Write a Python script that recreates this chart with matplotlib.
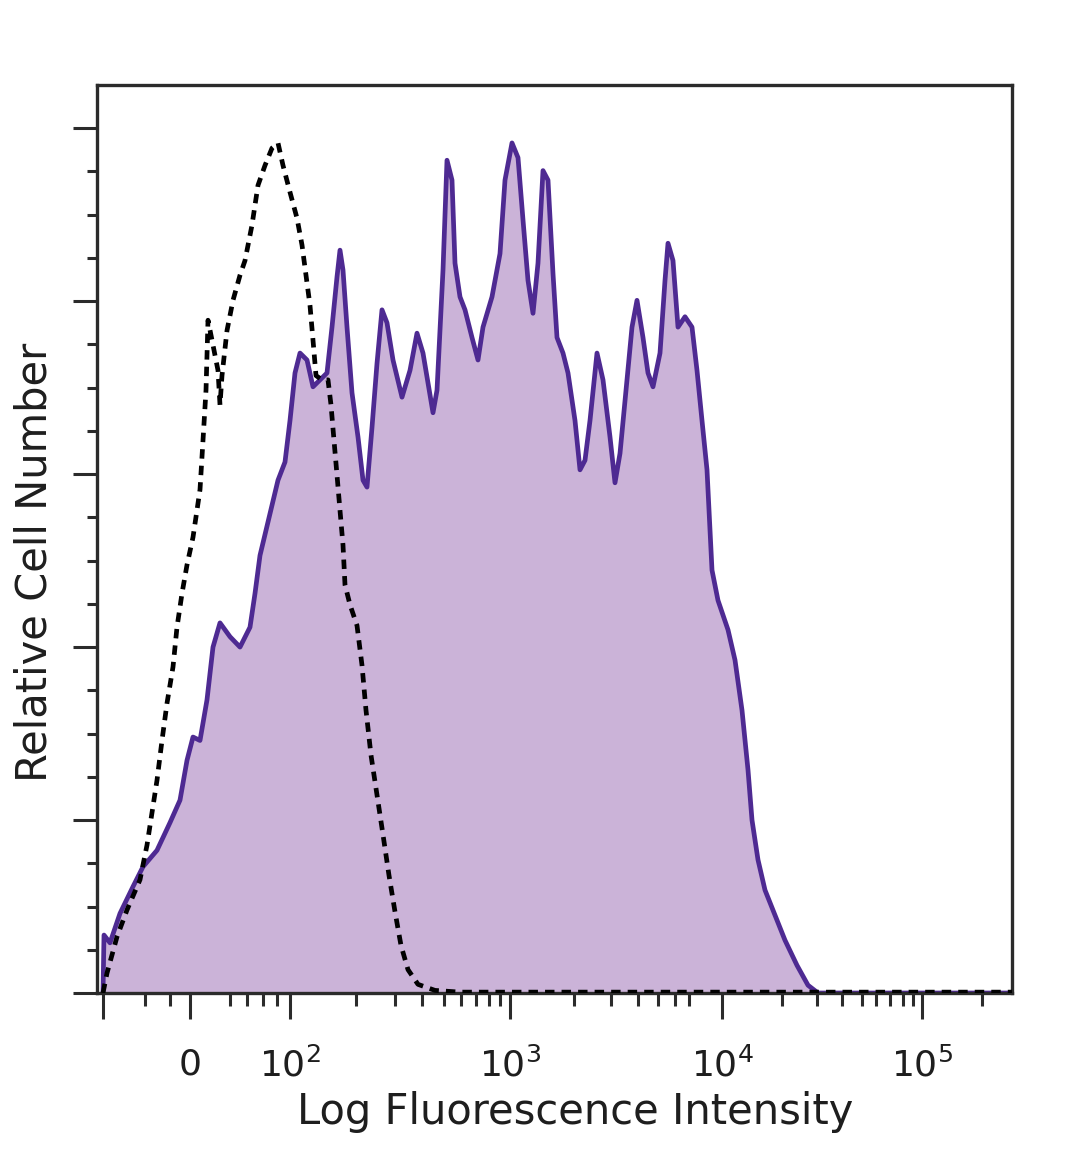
import numpy as np
import matplotlib
matplotlib.use("Agg")
import matplotlib.pyplot as plt

# display channel (0..915 across the axis) and relative cell count (% of max)
stained_x = [6, 7, 13, 23, 36, 46, 60, 73, 83, 90, 96, 103, 110, 116, 123, 133, 143, 153, 158,
             163, 169, 175, 181, 188, 193, 198, 203, 210, 216, 223, 230, 235, 240, 243, 246, 250,
             255, 261, 266, 270, 275, 280, 285, 290, 296, 305, 313, 320, 326, 336, 340, 346, 350,
             355, 358, 363, 368, 375, 381, 386, 395, 403, 408, 415, 421, 426, 431, 436, 441, 446,
             451, 456, 460, 466, 471, 478, 483, 488, 493, 500, 506, 513, 518, 523, 530, 535, 540,
             546, 551, 556, 563, 568, 571, 576, 581, 588, 595, 600, 605, 610, 615, 621, 631, 638,
             645, 651, 655, 661, 668, 678, 688, 700, 711, 721, 915]
stained_y = [0, 6.7, 5.8, 9.2, 12.3, 14.6, 16.5, 19.7, 22.3, 26.9, 29.6, 29.2, 33.9, 40.0, 42.8,
             41.2, 40.0, 42.3, 46.2, 50.6, 53.5, 56.4, 59.3, 61.4, 66.2, 71.7, 74.0, 73.2, 70.1,
             70.9, 71.7, 77.0, 82.8, 85.9, 83.6, 77.0, 69.4, 64.3, 59.3, 58.5, 65.4, 72.8, 79.0,
             77.5, 73.2, 68.9, 72.0, 76.3, 74.0, 67.1, 69.7, 83.6, 96.3, 94.0, 84.4, 80.5, 79.0,
             75.8, 73.2, 77.0, 80.5, 85.5, 94.0, 98.3, 96.6, 89.4, 82.4, 78.6, 84.4, 95.1, 94.0,
             83.2, 75.8, 74.0, 71.7, 66.2, 60.5, 61.6, 66.2, 74.0, 70.9, 64.3, 59.0, 62.4, 70.9,
             77.0, 80.1, 75.8, 71.7, 70.1, 74.0, 82.4, 86.7, 84.7, 77.0, 78.2, 77.0, 72.0, 66.2,
             60.5, 48.9, 45.4, 42.0, 38.5, 32.7, 25.8, 20.0, 15.4, 11.9, 9.0, 6.1, 3.2, 0.9, 0, 0]

control_x = [6, 10, 20, 30, 43, 50, 60, 65, 70, 76, 80, 85, 90, 96, 103, 106, 109, 111, 115, 121,
             123, 125, 130, 136, 143, 148, 155, 161, 168, 175, 181, 186, 193, 200, 205, 209, 213,
             216, 219, 225, 231, 234, 237, 240, 243, 246, 248, 253, 260, 265, 269, 274, 280, 286,
             292, 298, 304, 311, 321, 338, 363, 915]
control_y = [0, 2.3, 6.5, 9.6, 13.1, 17.1, 24.6, 29.2, 33.5, 37.7, 42.3, 46.2, 49.5, 52.7, 58.2,
             63.9, 69.7, 77.8, 75.5, 72.0, 68.0, 71.4, 76.6, 80.1, 83.0, 84.7, 88.8, 93.4, 95.7,
             97.7, 98.3, 95.7, 92.6, 89.6, 86.5, 83.0, 79.5, 75.5, 71.4, 70.9, 70.9, 68.0, 63.9,
             59.9, 55.8, 51.8, 47.2, 44.9, 42.5, 37.9, 32.7, 27.5, 22.9, 18.3, 13.6, 9.4, 5.5,
             2.7, 1.0, 0.3, 0.1, 0.1]

# axis decorations (channel positions of the biexponential ticks)
major_ticks = [6, 93, 193, 413, 625, 825]
major_labels = ["", "0", r"$10^2$", r"$10^3$", r"$10^4$", r"$10^5$"]
minor_ticks = [48, 73, 133, 150, 166, 180,
               259, 298, 325, 347, 364, 379, 392, 403,
               477, 514, 541, 561, 578, 592,
               685, 720, 745, 765, 779, 793, 806, 816,
               885]

fill_color = "#CBB3D8"
edge_color = "#4E2A92"
axis_color = "#2b2b2b"
text_color = "#1e1e1e"

fig = plt.figure(figsize=(10.8, 11.69), dpi=100)
ax = fig.add_axes([97 / 1080, 1 - 993 / 1169, 915 / 1080, 908 / 1169])

ax.fill_between(stained_x, stained_y, 0, color=fill_color, linewidth=0, zorder=1)
ax.plot(stained_x, stained_y, color=edge_color, linewidth=3.4, zorder=2)
ax.plot(control_x, control_y, color="black", linewidth=3.4, linestyle=(0, (2.0, 1.5)), zorder=3)

ax.set_xlim(0, 915)
ax.set_ylim(0, 105)

ax.set_xticks(major_ticks)
ax.set_xticklabels(major_labels, fontsize=26)
ax.set_xticks(minor_ticks, minor=True)
ax.set_yticks(np.arange(0, 101, 20))
ax.set_yticks(np.arange(0, 101, 5), minor=True)
ax.set_yticklabels([])

ax.tick_params(axis="x", which="major", direction="out", length=19, width=2.2,
               color=axis_color, pad=20, labelcolor=text_color)
ax.tick_params(axis="x", which="minor", direction="out", length=9, width=2.2, color=axis_color)
ax.tick_params(axis="y", which="major", direction="out", length=17, width=2.2, color=axis_color)
ax.tick_params(axis="y", which="minor", direction="out", length=7, width=2.2, color=axis_color)

for sp in ax.spines.values():
    sp.set_linewidth(2.4)
    sp.set_color(axis_color)

fig.text(575 / 1080, 1 - 1112 / 1169, "Log Fluorescence Intensity", ha="center", va="center",
         fontsize=30, color=text_color)
fig.text(35 / 1080, 1 - 562 / 1169, "Relative Cell Number", ha="center", va="center",
         rotation=90, fontsize=30, color=text_color)

fig.savefig("out.png", dpi=100)
